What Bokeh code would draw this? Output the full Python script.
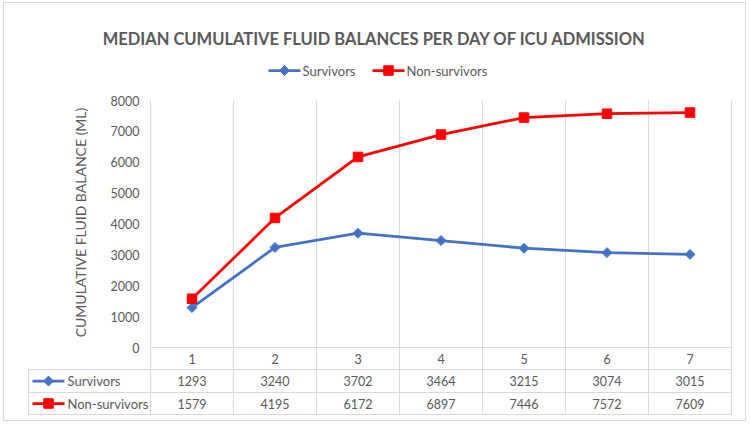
import math
from bokeh.plotting import figure
from bokeh.models import Range1d
from bokeh.embed import file_html
from bokeh.resources import INLINE

# ---------------- data ----------------
days = [1, 2, 3, 4, 5, 6, 7]
survivors = [1293, 3240, 3702, 3464, 3215, 3074, 3015]
non_survivors = [1579, 4195, 6172, 6897, 7446, 7572, 7609]
series_names = ["Survivors", "Non-survivors"]
y_ticks = [0, 1000, 2000, 3000, 4000, 5000, 6000, 7000, 8000]
title_text = "MEDIAN CUMULATIVE FLUID BALANCES PER DAY OF ICU ADMISSION"
y_title = "CUMULATIVE FLUID BALANCE (ML)"

# ---------------- style ----------------
BLUE = "#4472C4"
RED = "#FF0000"
GRID = "#D9D9D9"
TEXT = "#595959"
FONT = "Lato"

W, H = 750, 424
PLOT_LEFT, UNIT_PX = 150.0, 83.0      # pixel of first category boundary, px per category
ZERO_PY, TOP_PY = 347.0, 100.0        # pixel rows of value 0 and value 8000
Y_MAX = y_ticks[-1]
VPP = Y_MAX / (ZERO_PY - TOP_PY)      # value per pixel
x_first = days[0] - 0.5
x_last = days[-1] + 0.5


def X(px):  # layout pixel column -> data x
    return x_first + (px - PLOT_LEFT) / UNIT_PX


def Y(py):  # layout pixel row -> data y
    return (ZERO_PY - py) * VPP


p = figure(width=W, height=H,
           x_range=Range1d(X(0), X(W)), y_range=Range1d(Y(H), Y(0)),
           x_axis_location=None, y_axis_location=None,
           output_backend="svg", toolbar_location=None, min_border=0)
p.outline_line_color = None
p.xgrid.visible = False
p.ygrid.visible = False
p.background_fill_color = "white"
p.border_fill_color = "white"

# outer chart-area border
p.quad(left=[X(3)], right=[X(745)], top=[Y(2)], bottom=[Y(420)],
       fill_color=None, line_color=GRID, line_width=1)

# table geometry (rows: header, survivors, non-survivors)
row_edges_py = [347, 369, 392, 414]
row_mid = [Y((row_edges_py[i] + row_edges_py[i + 1]) / 2) for i in range(3)]
tab_left = X(28)
bounds = [d - 0.5 for d in days] + [x_last]

# vertical category gridlines (chart + table)
p.segment(x0=bounds, y0=[Y_MAX] * len(bounds), x1=bounds, y1=[Y(row_edges_py[-1])] * len(bounds),
          line_color=GRID, line_width=1)
# category axis line / table top
p.segment(x0=[x_first], y0=[0], x1=[x_last], y1=[0], line_color=GRID, line_width=1)
# table horizontal lines
p.segment(x0=[tab_left] * 3, y0=[Y(v) for v in row_edges_py[1:]],
          x1=[x_last] * 3, y1=[Y(v) for v in row_edges_py[1:]],
          line_color=GRID, line_width=1)
p.segment(x0=[tab_left], y0=[Y(row_edges_py[1])], x1=[tab_left], y1=[Y(row_edges_py[-1])],
          line_color=GRID, line_width=1)

# y tick labels (value scale)
p.text(x=[X(139)] * len(y_ticks), y=y_ticks, text=[str(v) for v in y_ticks],
       text_font={"value": FONT}, text_font_size={"value": "12.5px"}, text_color=TEXT,
       text_align="right", text_baseline="middle")
# y axis title
p.text(x=[X(80)], y=[Y(222)], text=[y_title], angle=math.pi / 2,
       text_font={"value": FONT}, text_font_size={"value": "14px"}, text_color=TEXT,
       text_align="center", text_baseline="middle")
# chart title
p.text(x=[X(374)], y=[Y(38)], text=[title_text],
       text_font={"value": FONT}, text_font_size={"value": "16.5px"}, text_font_style="bold",
       text_color=TEXT, text_align="center", text_baseline="middle")

# series
LW = 2.75
p.line(days, survivors, line_color=BLUE, line_width=LW)
p.scatter(days, survivors, marker="square", angle=math.pi / 4, size=7,
          fill_color=BLUE, line_color=BLUE)
p.line(days, non_survivors, line_color=RED, line_width=LW)
p.scatter(days, non_survivors, marker="square", size=9.5, fill_color=RED, line_color=RED)


def legend_key(px0, px1, py, color, marker):
    xm = (X(px0) + X(px1)) / 2
    p.segment(x0=[X(px0)], y0=[Y(py)], x1=[X(px1)], y1=[Y(py)], line_color=color, line_width=LW)
    if marker == "diamond":
        p.scatter([xm], [Y(py)], marker="square", angle=math.pi / 4, size=7,
                  fill_color=color, line_color=color)
    else:
        p.scatter([xm], [Y(py)], marker="square", size=9.5, fill_color=color, line_color=color)


lab_kw = dict(text_font={"value": FONT}, text_font_size={"value": "13px"}, text_color=TEXT,
              text_align="left", text_baseline="middle")

# top legend
legend_key(268, 300, 70, BLUE, "diamond")
p.text(x=[X(302)], y=[Y(70)], text=[series_names[0]], **lab_kw)
legend_key(372, 404, 70, RED, "square")
p.text(x=[X(406)], y=[Y(70)], text=[series_names[1]], **lab_kw)

# data table
num_kw = dict(text_font={"value": FONT}, text_font_size={"value": "12.5px"}, text_color=TEXT,
              text_align="center", text_baseline="middle")
p.text(x=days, y=[row_mid[0]] * 7, text=[str(d) for d in days], **num_kw)
p.text(x=days, y=[row_mid[1]] * 7, text=[str(v) for v in survivors], **num_kw)
p.text(x=days, y=[row_mid[2]] * 7, text=[str(v) for v in non_survivors], **num_kw)

legend_key(32, 64, (row_edges_py[1] + row_edges_py[2]) / 2, BLUE, "diamond")
legend_key(32, 64, (row_edges_py[2] + row_edges_py[3]) / 2, RED, "square")
p.text(x=[X(67)] * 2, y=row_mid[1:], text=series_names, **lab_kw)

open("out.html", "w").write(file_html(p, INLINE))
